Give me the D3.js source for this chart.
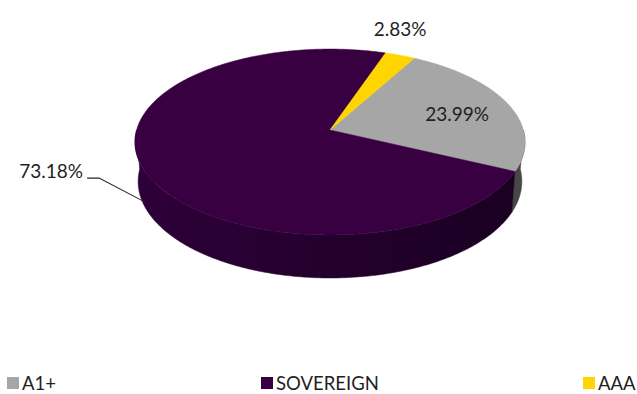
<!DOCTYPE html>
<html>
<head>
<meta charset="utf-8">
<script src="https://cdn.jsdelivr.net/npm/d3@7/dist/d3.min.js"></script>
<style>
  html, body { margin: 0; padding: 0; background: #ffffff; }
  svg { display: block; }
  text { font-family: Lato, "Open Sans", sans-serif; fill: #1f1f1f; }
</style>
</head>
<body>
<svg id="chart" width="637" height="394"></svg>
<script>
// Portfolio rating split
const categories = ["A1+", "SOVEREIGN", "AAA"];
const values = [23.99, 73.18, 2.83];
const valueLabels = ["23.99%", "73.18%", "2.83%"];
const topColors = ["#a6a6a6", "#380040", "#ffd500"];
// side wall shades: [left, right]
const sideColors = [["#545454", "#474747"], ["#2e0039", "#1a0021"], ["#9c8300", "#9c8300"]];

const W = 637, H = 394;
const svg = d3.select("#chart");
svg.append("rect").attr("width", W).attr("height", H).attr("fill", "#ffffff");

// 3D view of a unit disc: tilt, camera distance, focal length, thickness
const deg = Math.PI / 180;
const tilt = 28.2 * deg;
const sinP = Math.sin(tilt), cosP = Math.cos(tilt);
const camD = 6.83, focal = 1321, thick = 0.234;
const cx = 330, cy = 130;

// angle clockwise from 12 o'clock, r in disc radii, h = height (0 top, -thick bottom)
function proj(a, r, h) {
  const X = r * Math.sin(a), Z = -r * Math.cos(a);
  const v = Z * sinP - h * cosP;
  const w = camD - Z * cosP - h * sinP;
  return [cx + focal * X / w, cy + focal * v / w, w];
}

const startAngle = 29 * deg;
const pie = d3.pie().sort(null).value(d => d)
  .startAngle(startAngle).endAngle(startAngle + 2 * Math.PI);
const arcs = pie(values);

const line = d3.line();
const defs = svg.append("defs");

// horizontal shading for each wall
const xLeft = proj(-90 * deg, 1, 0)[0], xRight = proj(90 * deg, 1, 0)[0];
arcs.forEach((d, i) => {
  const g = defs.append("linearGradient").attr("id", "side" + i)
    .attr("gradientUnits", "userSpaceOnUse")
    .attr("x1", xLeft).attr("y1", 0).attr("x2", xRight).attr("y2", 0);
  g.append("stop").attr("offset", "0%").attr("stop-color", sideColors[i][0]);
  g.append("stop").attr("offset", "100%").attr("stop-color", sideColors[i][1]);
});

// front-facing part of the outer wall
const visLo = 90 * deg, visHi = 270 * deg;
function sidePath(d) {
  // bring the slice range into [0, 2π) terms and clip to the visible half
  let a0 = d.startAngle, a1 = d.endAngle;
  const segs = [];
  for (const shift of [0, -2 * Math.PI]) {
    const lo = Math.max(a0 + shift, visLo), hi = Math.min(a1 + shift, visHi);
    if (hi > lo) segs.push([lo, hi]);
  }
  return segs.map(([lo, hi]) => {
    const n = Math.max(2, Math.ceil((hi - lo) / (0.5 * deg)));
    const topPts = [], botPts = [];
    for (let k = 0; k <= n; k++) {
      const a = lo + (hi - lo) * k / n;
      const t = proj(a, 1, 0), b = proj(a, 1, -thick);
      topPts.push([t[0], t[1]]);
      botPts.push([b[0], b[1]]);
    }
    return line(topPts.concat(botPts.reverse())) + "Z";
  }).join("");
}
svg.append("g").selectAll("path").data(arcs).join("path")
  .attr("d", sidePath)
  .attr("fill", (d, i) => `url(#side${i})`)
  .attr("stroke", (d, i) => `url(#side${i})`)
  .attr("stroke-width", 0.5);

// top faces
function topPath(d) {
  const pts = [[cx, cy]];
  const n = Math.max(2, Math.ceil((d.endAngle - d.startAngle) / (0.5 * deg)));
  for (let k = 0; k <= n; k++) {
    const a = d.startAngle + (d.endAngle - d.startAngle) * k / n;
    const p = proj(a, 1, 0);
    pts.push([p[0], p[1]]);
  }
  return line(pts) + "Z";
}
svg.append("g").selectAll("path").data(arcs).join("path")
  .attr("d", topPath)
  .attr("fill", (d, i) => topColors[i])
  .attr("stroke", (d, i) => topColors[i])
  .attr("stroke-width", 0.5);

// value labels
const fs = 19;
const mid = d => (d.startAngle + d.endAngle) / 2;

// A1+ : inside the slice
{
  const d = arcs[0];
  const p = proj(mid(d), 0.71, 0);
  svg.append("text").attr("x", p[0]).attr("y", p[1] + 10)
    .attr("text-anchor", "middle").attr("font-size", fs).text(valueLabels[0]);
}
// AAA : above the rim
{
  const d = arcs[2];
  const p = proj(mid(d), 1, 0);
  svg.append("text").attr("x", p[0]).attr("y", p[1] - 19)
    .attr("text-anchor", "middle").attr("font-size", fs).text(valueLabels[2]);
}
// SOVEREIGN : outside with leader line
{
  const d = arcs[1];
  const p = proj(mid(d), 1, -thick * 0.85);
  const elbow = [p[0] - 46, p[1] - 24];
  const tail = [elbow[0] - 12, elbow[1]];
  svg.append("path")
    .attr("d", line([[p[0], p[1]], elbow, tail]))
    .attr("fill", "none").attr("stroke", "#262626").attr("stroke-width", 1.1);
  svg.append("text").attr("x", tail[0] - 4).attr("y", elbow[1])
    .attr("text-anchor", "end").attr("font-size", fs).text(valueLabels[1]);
}

// legend
const legendX = [7, 261, 583];
const lg = svg.append("g").selectAll("g").data(categories).join("g")
  .attr("transform", (c, i) => `translate(${legendX[i]},377)`);
lg.append("rect").attr("width", 12).attr("height", 12)
  .attr("fill", (c, i) => topColors[i]);
lg.append("text").attr("x", 15).attr("y", 12.5)
  .attr("font-size", 18.5).text(c => c);
</script>
</body>
</html>
